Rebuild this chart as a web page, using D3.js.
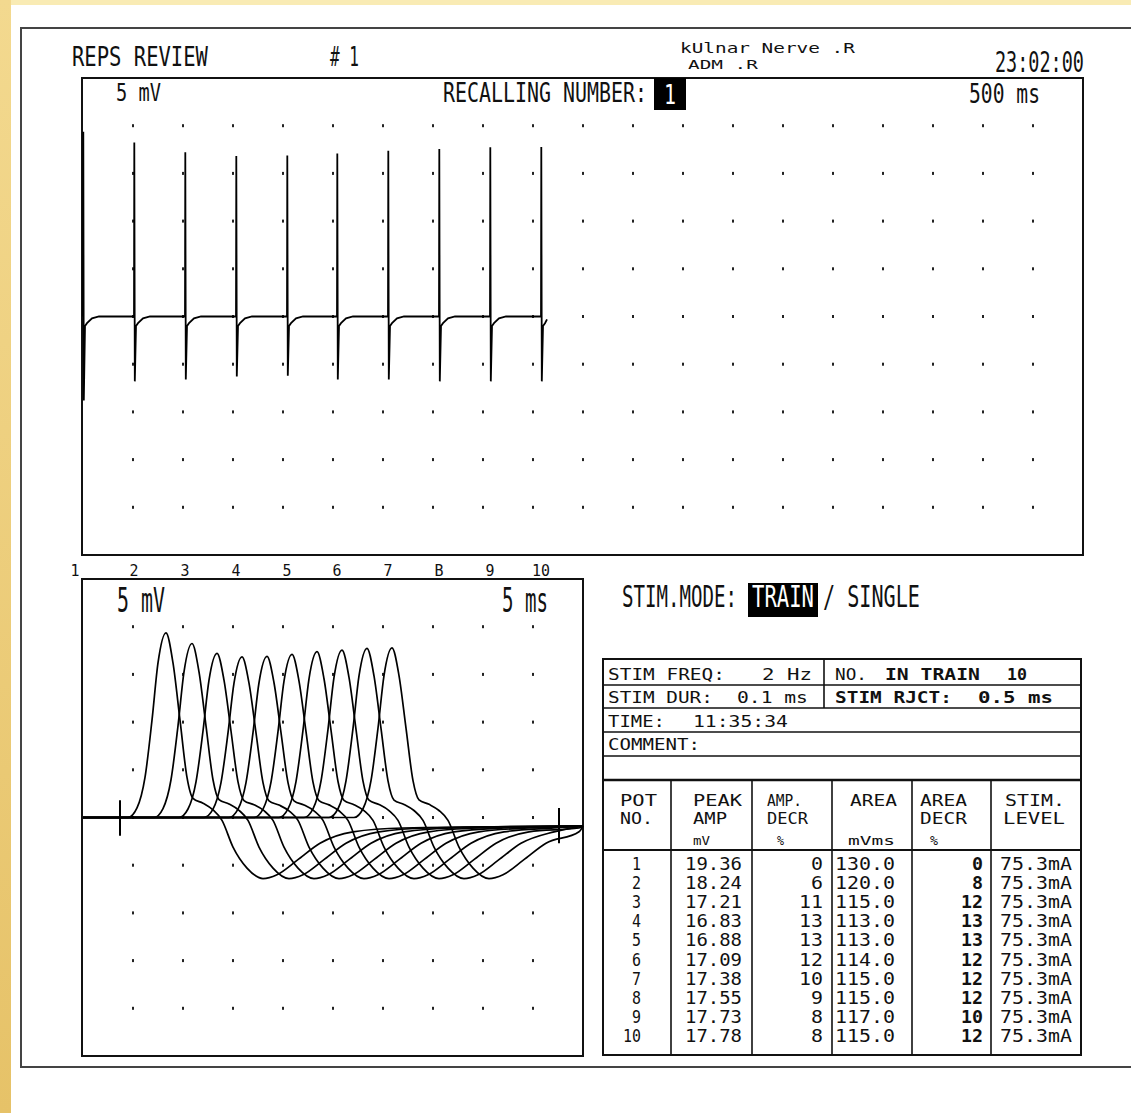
<!DOCTYPE html>
<html><head><meta charset="utf-8">
<script src="https://cdn.jsdelivr.net/npm/d3@7"></script>
<style>body{margin:0;background:#fff;}svg{display:block;}text{font-family:"DejaVu Sans Mono","Liberation Mono",monospace;fill:#111;}</style>
</head><body>
<script>
// ---------- DATA ----------
const potNumbers = ["1","2","3","4","5","6","7","8","9","10"];
const trainLabels = ["1","2","3","4","5","6","7","B","9","10"];
const stimTimesMs = [0, 510, 1020, 1530, 2040, 2540, 3050, 3560, 4070, 4580];
const topTroughMv = [-8.8, -6.8, -6.6, -6.3, -6.2, -6.6, -6.6, -6.8, -6.8, -6.8];
const topRecovery = [[20, -1.0], [40, -0.7], [90, -0.2], [160, 0]];
const traceEndMs = 4640, traceEndMv = -0.3;
const peakAmp = [19.36, 18.24, 17.21, 16.83, 16.88, 17.09, 17.38, 17.55, 17.73, 17.78];
const ampDecr = [0, 6, 11, 13, 13, 12, 10, 9, 8, 8];
const area = [130.0, 120.0, 115.0, 113.0, 113.0, 114.0, 115.0, 115.0, 117.0, 115.0];
const areaDecr = [0, 8, 12, 13, 13, 12, 12, 12, 10, 12];
const stimLevel = [75.3, 75.3, 75.3, 75.3, 75.3, 75.3, 75.3, 75.3, 75.3, 75.3];
// overlay (bottom) chart: peak latency of each displayed response, ms
const peakTimesMs = [8.3, 10.9, 13.4, 15.9, 18.4, 20.9, 23.4, 25.9, 28.4, 30.9];
// waveform of response 1: [ms from peak, mV]
const cmapTemplate = [[-3.8,0],[-2.9,1.0],[-2.1,4.2],[-1.4,10.2],[-0.8,16.2],[0,19.36],[0.7,16.2],[1.4,10.2],[2.1,4.2],[2.7,2.0],[3.7,1.5],[4.7,0.8],[5.6,-0.3],[6.7,-3.1],[8.1,-5.3],[9.7,-6.4],[11.1,-6.0],[13.1,-4.5],[15.4,-2.7],[18.7,-1.5],[23.7,-1.1]];
const tailMv = -0.9;
const stimMarkers = [[3.7, 1.8, -1.9], [47.6, 1.0, -2.7]];

// ---------- SETUP ----------
const W = 1131, H = 1113;
const svg = d3.select("body").append("svg").attr("width", W).attr("height", H);
const defs = svg.append("defs");
const lg = defs.append("linearGradient").attr("id","gold").attr("x1",0).attr("x2",0).attr("y1",0).attr("y2",1);
lg.append("stop").attr("offset","0").attr("stop-color","#f3d98f");
lg.append("stop").attr("offset","1").attr("stop-color","#e6c268");
svg.append("rect").attr("width",W).attr("height",H).attr("fill","#fff");
svg.append("rect").attr("x",0).attr("y",0).attr("width",W).attr("height",5).attr("fill","#f9ebb4");
svg.append("rect").attr("x",0).attr("y",0).attr("width",11).attr("height",H).attr("fill","url(#gold)");

// text squeezed horizontally to the width it has in the reference
function txt(x, y, s, size, len, opt = {}) {
  const t = svg.append("text").attr("x", 0).attr("y", 0).attr("font-size", size).text(s);
  if (opt.bold) t.attr("font-weight", "bold");
  if (opt.fill) t.style("fill", opt.fill);
  const w = t.node().getComputedTextLength() || 1;
  const sx = len ? len / w : 1;
  const L = len || w;
  const x0 = opt.anchor === "middle" ? x - L / 2 : (opt.anchor === "end" ? x - L : x);
  t.attr("transform", `translate(${x0},${y}) scale(${sx},1)`);
  return t;
}
function line(x1, y1, x2, y2, w = 2, c = "#111") {
  svg.append("line").attr("x1",x1).attr("y1",y1).attr("x2",x2).attr("y2",y2).attr("stroke",c).attr("stroke-width",w);
}

// outer frame
svg.append("path").attr("d","M1140,28 H21 V1067 H1140").attr("fill","none").attr("stroke","#444").attr("stroke-width",2);

// header
txt(72, 66, "REPS REVIEW", 27, 136);
txt(330, 66, "# 1", 27, 29);
txt(680, 53, "kUlnar Nerve .R", 14, 175);
txt(688, 69, "ADM .R", 13, 70);
txt(995, 72, "23:02:00", 28, 89);

// ---------- TOP CHART ----------
const xTop = d3.scaleLinear().domain([0, 10000]).range([83, 1083]);
const yTop = d3.scaleLinear().domain([-25, 25]).range([555, 78]);
svg.append("rect").attr("x",82).attr("y",78).attr("width",1001).attr("height",477).attr("fill","none").attr("stroke","#111").attr("stroke-width",2);
const gridT = [];
d3.range(500, 10000, 500).forEach(t => d3.range(-20, 25, 5).forEach(v => gridT.push([t, v])));
svg.append("g").selectAll("rect").data(gridT).join("rect")
  .attr("x", d => xTop(d[0]) - 1).attr("y", d => yTop(d[1]) - 1.5).attr("width", 2).attr("height", 3).attr("fill", "#222");

let topPts = [];
stimTimesMs.forEach((t, i) => {
  topPts.push([t, 0]);
  topPts.push([t + 3, peakAmp[i]]);
  topPts.push([t + 8, topTroughMv[i]]);
  topRecovery.forEach(([dt, v]) => topPts.push([t + dt, v]));
});
topPts = topPts.filter(d => d[0] <= traceEndMs);
topPts.push([traceEndMs, traceEndMv]);
svg.append("path").datum(topPts)
  .attr("d", d3.line().x(d => xTop(d[0])).y(d => yTop(d[1])))
  .attr("fill","none").attr("stroke","#000").attr("stroke-width",1.8);

txt(116, 101, "5 mV", 24, 45);
txt(443, 102, "RECALLING NUMBER:", 27, 204);
svg.append("rect").attr("x",654).attr("y",78).attr("width",32).attr("height",32).attr("fill","#000");
txt(664, 104, "1", 27, 12, {fill:"#fff"});
txt(969, 103, "500 ms", 27, 71);

// train labels
trainLabels.forEach((s, i) => {
  const cx = i === 0 ? xTop(stimTimesMs[i]) - 8 : xTop(stimTimesMs[i]);
  txt(cx, 576, s, 15, s.length * 9, {anchor: "middle"});
});

// ---------- BOTTOM CHART ----------
const xBot = d3.scaleLinear().domain([0, 50]).range([83, 583]);
const yBot = d3.scaleLinear().domain([-25, 25]).range([1056, 579]);
svg.append("rect").attr("x",82).attr("y",579).attr("width",501).attr("height",477).attr("fill","none").attr("stroke","#111").attr("stroke-width",2);
const gridB = [];
d3.range(5, 50, 5).forEach(t => d3.range(-20, 25, 5).forEach(v => gridB.push([t, v])));
svg.append("g").selectAll("rect").data(gridB).join("rect")
  .attr("x", d => xBot(d[0]) - 1).attr("y", d => yBot(d[1]) - 1.5).attr("width", 2).attr("height", 3).attr("fill", "#222");

const traceData = peakTimesMs.map((pt, i) => {
  const pts = [[0, 0]];
  cmapTemplate.forEach(([dt, v]) => {
    const t = pt + dt;
    if (t < 50) pts.push([t, v > 0 ? v * peakAmp[i] / peakAmp[0] : v]);
  });
  pts.push([50, tailMv]);
  return pts;
});
svg.append("g").selectAll("path").data(traceData).join("path")
  .attr("d", d3.line().x(d => xBot(d[0])).y(d => yBot(d[1])).curve(d3.curveMonotoneX))
  .attr("fill","none").attr("stroke","#000").attr("stroke-width",1.7);
svg.append("g").selectAll("line").data(stimMarkers).join("line")
  .attr("x1", d => xBot(d[0])).attr("x2", d => xBot(d[0]))
  .attr("y1", d => yBot(d[1])).attr("y2", d => yBot(d[2]))
  .attr("stroke","#000").attr("stroke-width",2);

txt(117, 612, "5 mV", 33, 48);
txt(502, 612, "5 ms", 33, 46);

// ---------- STIM MODE ----------
txt(622, 607, "STIM.MODE:", 30, 115);
svg.append("rect").attr("x",748).attr("y",583).attr("width",70).attr("height",34).attr("fill","#000");
txt(752, 607, "TRAIN", 30, 62, {fill:"#fff"});
txt(823, 607, "/ SINGLE", 30, 97);

// ---------- INFO BOX ----------
svg.append("rect").attr("x",603).attr("y",659).attr("width",478).attr("height",396).attr("fill","none").attr("stroke","#111").attr("stroke-width",2);
[685, 708, 732, 756].forEach(y => line(603, y, 1081, y, 1.6));
line(824, 659, 824, 708, 1.6);
txt(608, 680, "STIM FREQ:", 16, 117);
txt(762, 680, "2 Hz", 16, 50);
txt(835, 680, "NO.", 16, 32);
txt(885, 680, "IN TRAIN", 16, 95, {bold:true});
txt(1007, 680, "10", 16, 20, {bold:true});
txt(608, 703, "STIM DUR:", 16, 105);
txt(737, 703, "0.1 ms", 16, 71);
txt(835, 703, "STIM RJCT:", 16, 117, {bold:true});
txt(978, 703, "0.5 ms", 16, 75, {bold:true});
txt(608, 727, "TIME:", 16, 57);
txt(693, 727, "11:35:34", 16, 95);
txt(608, 750, "COMMENT:", 16, 92);

// ---------- TABLE ----------
line(603, 780, 1081, 780, 2.5);
line(603, 850, 1081, 850, 2.2);
[671, 752, 832, 912, 991].forEach(x => line(x, 780, x, 1055, 1.6));
const hdr = [
  ["POT",620,806,37,15],["NO.",620,824,33,15],
  ["PEAK",693,806,49,15],["AMP",693,824,34,15],["mV",693,845,17,13],
  ["AMP.",767,806,35,15],["DECR",767,824,41,15],["%",777,845,7,13],
  ["AREA",850,806,47,15],["mVms",848,845,47,13],
  ["AREA",920,806,47,15],["DECR",920,824,47,15],["%",930,845,8,13],
  ["STIM.",1005,806,60,15],["LEVEL",1003,824,62,15]
];
hdr.forEach(([s,x,y,l,f]) => txt(x, y, s, f, l));

potNumbers.forEach((n, i) => {
  const y = 870 + 19.1 * i;
  const s1 = n;                         txt(641, y, s1, 18, 9 * s1.length, {anchor:"end"});
  const s2 = peakAmp[i].toFixed(2);     txt(685, y, s2, 18, 57);
  const s3 = String(ampDecr[i]);        txt(823, y, s3, 18, 12 * s3.length, {anchor:"end"});
  const s4 = area[i].toFixed(1);        txt(835, y, s4, 18, 60);
  const s5 = String(areaDecr[i]);       txt(983, y, s5, 18, 11 * s5.length, {bold:true, anchor:"end"});
  const s6 = stimLevel[i].toFixed(1) + "mA"; txt(1000, y, s6, 18, 72);
});
</script>
</body></html>
